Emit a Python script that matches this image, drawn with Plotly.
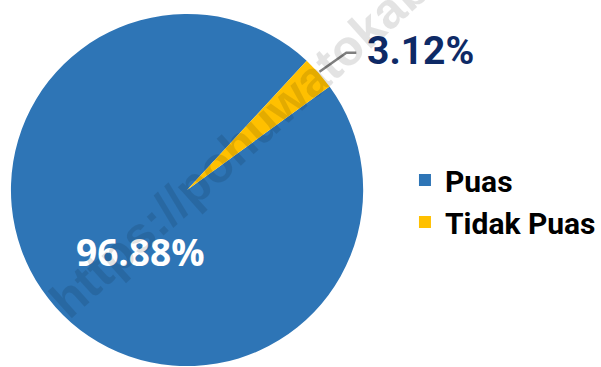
import math
import plotly.graph_objects as go

# ---- data ----
labels = ["Puas", "Tidak Puas"]
values = [96.88, 3.12]
colors = ["#2E75B6", "#FFC000"]
watermark = "https://pohuwatokab.go.id"

# ---- layout constants ----
W, H = 601, 367
M_T, M_B, M_L, M_R = 13, 0, 0, 0
CX, R = 188, 177          # pie centre x and radius in px
ROT = 54                  # start angle of first slice (deg clockwise from 12 o'clock)

plot_h = H - M_T - M_B
dom_x = [(CX - R) / W, (CX + R) / W]

def to_paper(px, py):
    return px / W, (H - M_B - py) / plot_h

CY = M_T + plot_h / 2

fig = go.Figure(go.Pie(
    labels=labels,
    values=values,
    marker=dict(colors=colors, line=dict(width=0)),
    sort=False,
    direction="clockwise",
    rotation=ROT,
    textinfo="none",
    domain=dict(x=dom_x, y=[0, 1]),
    hoverinfo="label+percent",
))

total = sum(values)

# inside label for the big slice
lx, ly = to_paper(CX - 47, CY + 61)
fig.add_annotation(xref="paper", yref="paper", x=lx, y=ly,
                   xanchor="center", yanchor="middle", showarrow=False,
                   text=f"{100 * values[0] / total:.2f}%",
                   font=dict(family="Open Sans", size=37, color="white", weight="bold"))

# leader line + outside label for the small slice
start = ROT + 360 * values[0] / total
mid = math.radians(start + 180 * values[1] / total)
rx = CX + (R + 1) * math.sin(mid)
ry = CY - (R + 1) * math.cos(mid)
ex, ey = rx + 27, ry - 19
hx = ex + 10
p0, p1, p2 = to_paper(rx, ry), to_paper(ex, ey), to_paper(hx, ey)
fig.add_shape(type="path", xref="paper", yref="paper",
              path=f"M {p0[0]},{p0[1]} L {p1[0]},{p1[1]} L {p2[0]},{p2[1]}",
              line=dict(color="#7f7f7f", width=2.5))
fig.add_annotation(xref="paper", yref="paper", x=p2[0] + 9 / W, y=p2[1] + 2 / plot_h,
                   xanchor="left", yanchor="middle", showarrow=False,
                   text=f"{100 * values[1] / total:.2f}%",
                   font=dict(family="Roboto", size=39, color="#0E2A66", weight="bold"))

# watermark
wx, wy = to_paper(290, 100)
fig.add_annotation(xref="paper", yref="paper", x=wx, y=wy, showarrow=False,
                   xanchor="center", yanchor="middle",
                   text=watermark, textangle=-42,
                   font=dict(family="Liberation Sans", size=50, color="rgba(0,0,0,0.11)", weight="bold"))

fig.update_layout(
    width=W, height=H,
    margin=dict(l=M_L, r=M_R, t=M_T, b=M_B),
    paper_bgcolor="white",
    plot_bgcolor="white",
    showlegend=True,
    legend=dict(x=407 / W, xanchor="left", y=to_paper(0, 201)[1], yanchor="middle",
                font=dict(family="Roboto", size=30, color="black", weight="bold"),
                bgcolor="rgba(0,0,0,0)"),
)

fig.write_html("out.html")
